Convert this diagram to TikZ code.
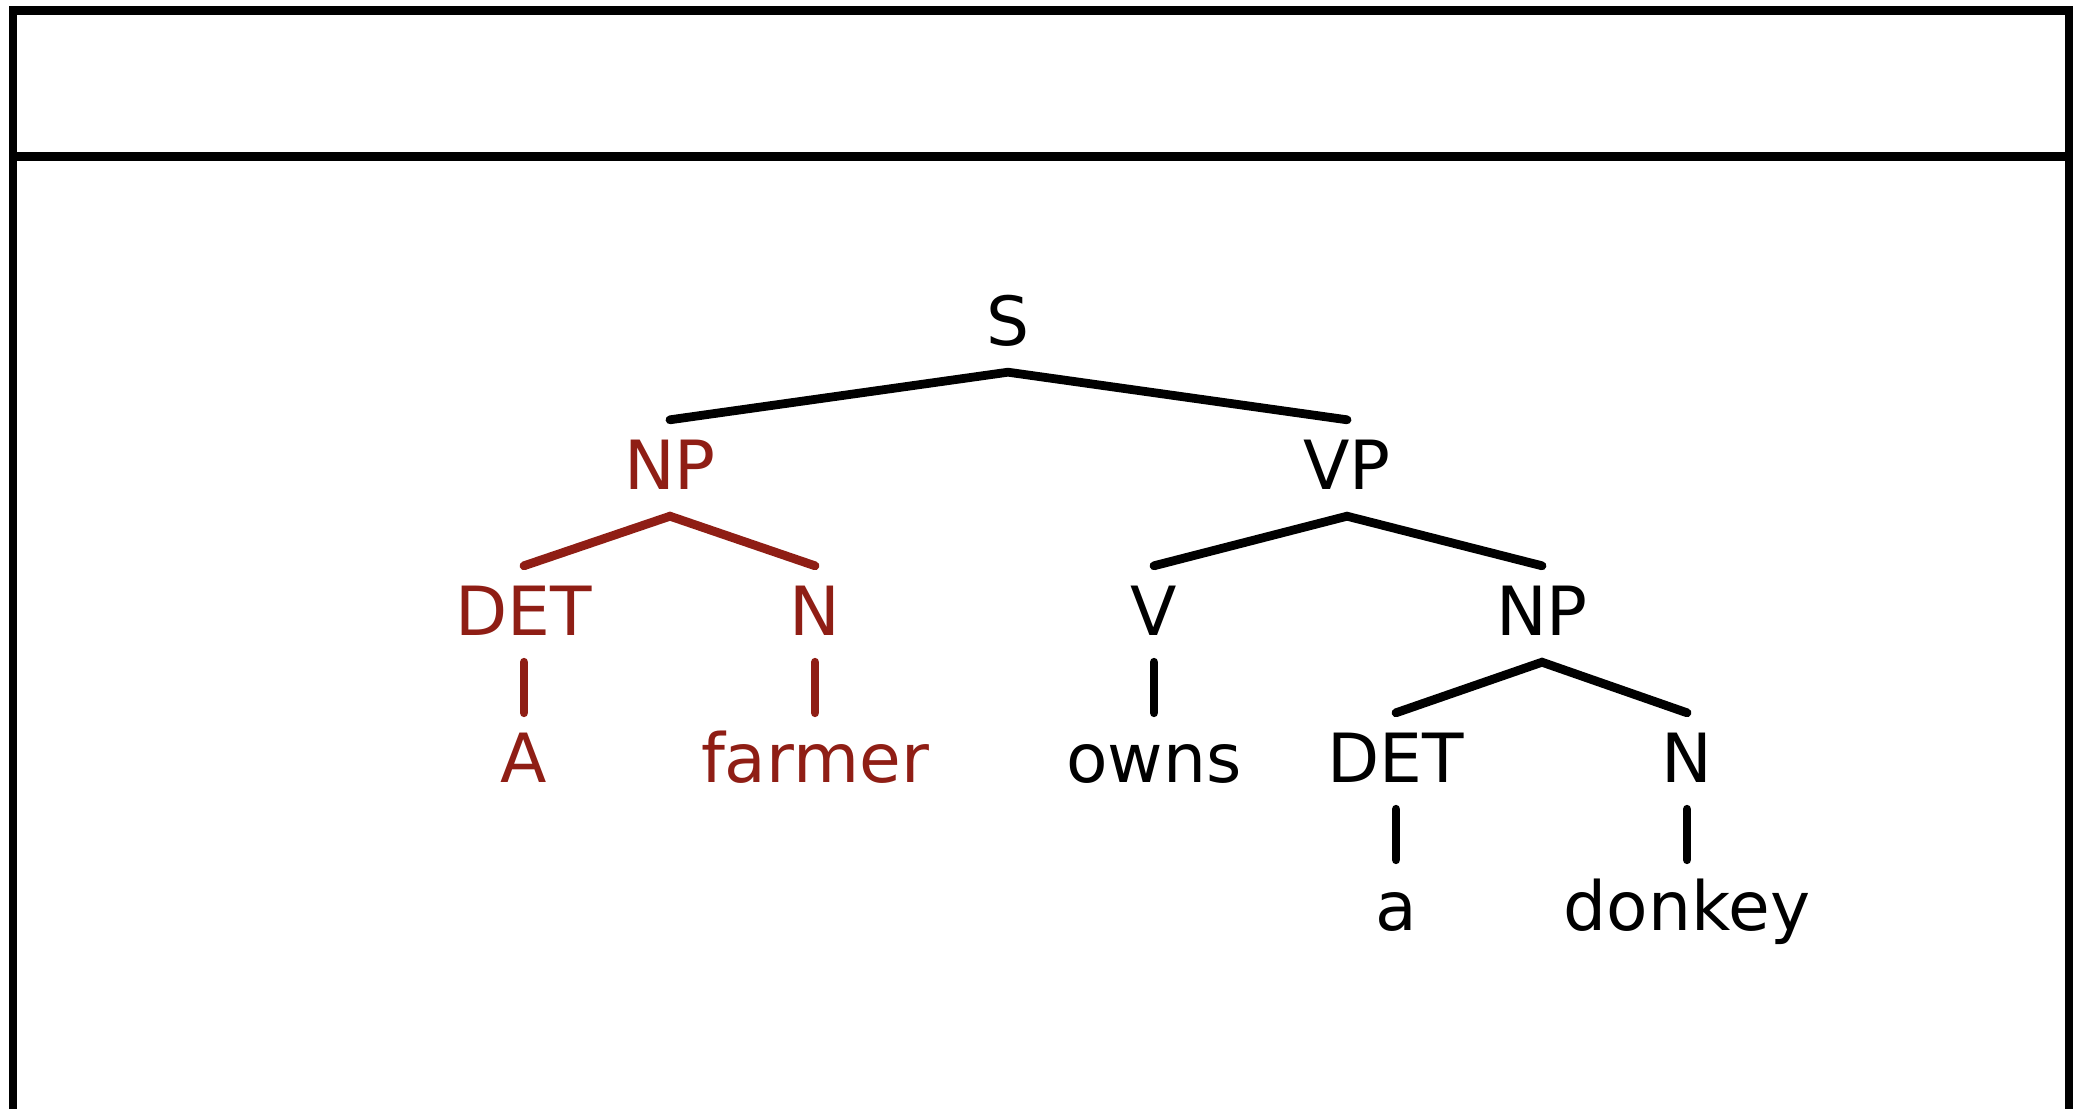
\documentclass[tikz,border=0pt]{standalone}
\usepackage{fontspec}
\setmainfont{DejaVu Sans}
\usetikzlibrary{positioning}
\definecolor{treered}{HTML}{8F1E15}

\begin{document}
\begin{tikzpicture}[node distance=1.46cm,on grid,
        cat/.style={font=\fontsize{19.3}{23}\selectfont,text height=0.44cm,text depth=0pt,inner ysep=0.255cm,inner xsep=0pt},
        branch/.style={line width=2.5pt,line cap=round},
        frame/.style={line width=2.3pt}]
        \useasboundingbox (0,0) rectangle (20.75,11.08);
        \clip (0,0) rectangle (20.75,11.08);

        % frame
        \draw[frame] (0.13,-0.5) -- (0.13,10.975) -- (20.69,10.975) -- (20.69,-0.5);
        \draw[frame] (0.13,9.515) -- (20.69,9.515);

        \node[cat] (S) at (10.08,7.84) {S};
        \node[cat,treered] (np) [below left=1.44cm and 3.38cm of S] {NP};
        \node[cat] (vp) [below right=1.44cm and 3.39cm of S] {VP};
        \node[cat,treered] (det) [below left=1.46cm and 1.46cm of np] {DET};
        \node[cat,treered] (n) [below right=1.46cm and 1.45cm of np] {N};
        \node[cat,treered] (A) [below=1.47cm of det] {A};
        \node[cat,treered] (farmer) [below=1.47cm of n] {farmer};
        \node[cat] (v) [below left=1.46cm and 1.93cm of vp] {V};
        \node[cat] (np2) [below right=1.46cm and 1.95cm of vp] {NP};
        \node[cat] (owns) [below=1.47cm of v] {owns};
        \node[cat] (det2) [below left=1.47cm and 1.46cm of np2] {DET};
        \node[cat] (n2) [below right=1.47cm and 1.45cm of np2] {N};
        \node[cat] (a) [below=1.47cm of det2] {a};
        \node[cat] (donkey) [below=1.47cm of n2] {donkey};

        \draw[branch] (np.north) -- (S.south) -- (vp.north);
        \draw[branch,treered] (det.north) -- (np.south) -- (n.north);
        \draw[branch,treered] (det.south) -- (A.north);
        \draw[branch,treered] (n.south) -- (farmer.north);
        \draw[branch] (v.north) -- (vp.south) -- (np2.north);
        \draw[branch] (v.south) -- (owns.north);
        \draw[branch] (det2.north) -- (np2.south) -- (n2.north);
        \draw[branch] (det2.south) -- (a.north);
        \draw[branch] (n2.south) -- (donkey.north);
\end{tikzpicture}
\end{document}
